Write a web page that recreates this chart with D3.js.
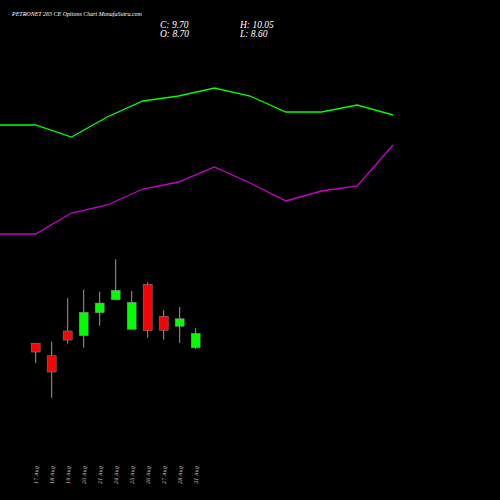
<!DOCTYPE html>
<html><head><meta charset="utf-8">
<script src="https://cdn.jsdelivr.net/npm/d3@7"></script>
<style>body{margin:0;background:#000}</style>
</head><body>
<script>
const dates = ['17 Aug', '18 Aug', '19 Aug', '20 Aug', '21 Aug', '24 Aug', '25 Aug', '26 Aug', '27 Aug', '28 Aug', '31 Aug']
const opens = [9.01, 8.14, 9.86, 9.53, 11.13, 12.03, 9.98, 13.10, 10.88, 10.19, 8.70]
const closes = [8.40, 7.01, 9.23, 11.16, 11.80, 12.69, 11.85, 9.88, 9.91, 10.71, 9.70]
const highs = [9.01, 9.12, 12.15, 12.73, 12.59, 14.84, 12.64, 13.24, 11.30, 11.53, 10.05]
const lows = [7.64, 5.21, 8.98, 8.70, 10.23, 12.03, 9.98, 9.39, 9.26, 9.03, 8.60]
const greenLine = [27.5, 27.5, 26.3, 28.3, 29.9, 30.4, 31.2, 30.4, 28.8, 28.8, 29.5, 28.5]
const magentaLine = [16.6, 16.6, 18.7, 19.5, 21.1, 21.8, 23.3, 21.7, 19.9, 20.9, 21.4, 25.5]

const W = 500, H = 500
const svg = d3.select('body').append('svg').attr('width', W).attr('height', H)
  .style('background', '#000')

const x = d3.scalePoint().domain(dates).range([35.7, 195.7])
const y = d3.scaleLinear().domain([8.70, 9.70]).range([347.7, 333.3])
const xl = d3.scaleLinear().domain([0, 11]).range([0, 393])
const yl = d3.scaleLinear().domain([0, 40]).range([400, 0])

const line = d3.line().x((d, i) => xl(i)).y(d => yl(d))
svg.append('path').datum(greenLine).attr('d', line)
  .attr('fill', 'none').attr('stroke', '#00ff00').attr('stroke-width', 1.3)
svg.append('path').datum(magentaLine).attr('d', line)
  .attr('fill', 'none').attr('stroke', '#cc00cc').attr('stroke-width', 1.3)

const candles = svg.append('g').selectAll('g').data(dates).enter().append('g')
candles.append('line')
  .attr('x1', d => x(d)).attr('x2', d => x(d))
  .attr('y1', (d, i) => y(highs[i])).attr('y2', (d, i) => y(lows[i]))
  .attr('stroke', '#999').attr('stroke-width', 1)
candles.append('rect')
  .attr('x', d => x(d) - 4.5).attr('width', 9)
  .attr('y', (d, i) => y(Math.max(opens[i], closes[i])))
  .attr('height', (d, i) => Math.max(1, Math.abs(y(opens[i]) - y(closes[i]))))
  .attr('fill', (d, i) => closes[i] >= opens[i] ? '#00ff00' : '#ff0000')
  .attr('stroke', '#888').attr('stroke-width', 0.5)

svg.append('g').selectAll('text').data(dates).enter().append('text')
  .attr('transform', d => `translate(${x(d) + 2},484) rotate(-90)`)
  .text(d => d)
  .style('font-family', 'DejaVu Serif').style('font-style', 'italic')
  .style('font-size', '5px').attr('fill', '#ccc')

const txt = (s, tx, ty, fs) => svg.append('text').text(s).attr('x', tx).attr('y', ty)
  .style('font-family', 'Liberation Serif').style('font-style', 'italic')
  .style('font-size', fs + 'px').attr('fill', '#fff')
txt('PETRONET 265 CE Options  Chart MunafaSutra.com', 12, 16, 6)
txt('C: 9.70', 160, 28, 9.5)
txt('O: 8.70', 160, 37, 9.5)
txt('H: 10.05', 240, 28, 9.5)
txt('L: 8.60', 240, 37, 9.5)
</script>
</body></html>
